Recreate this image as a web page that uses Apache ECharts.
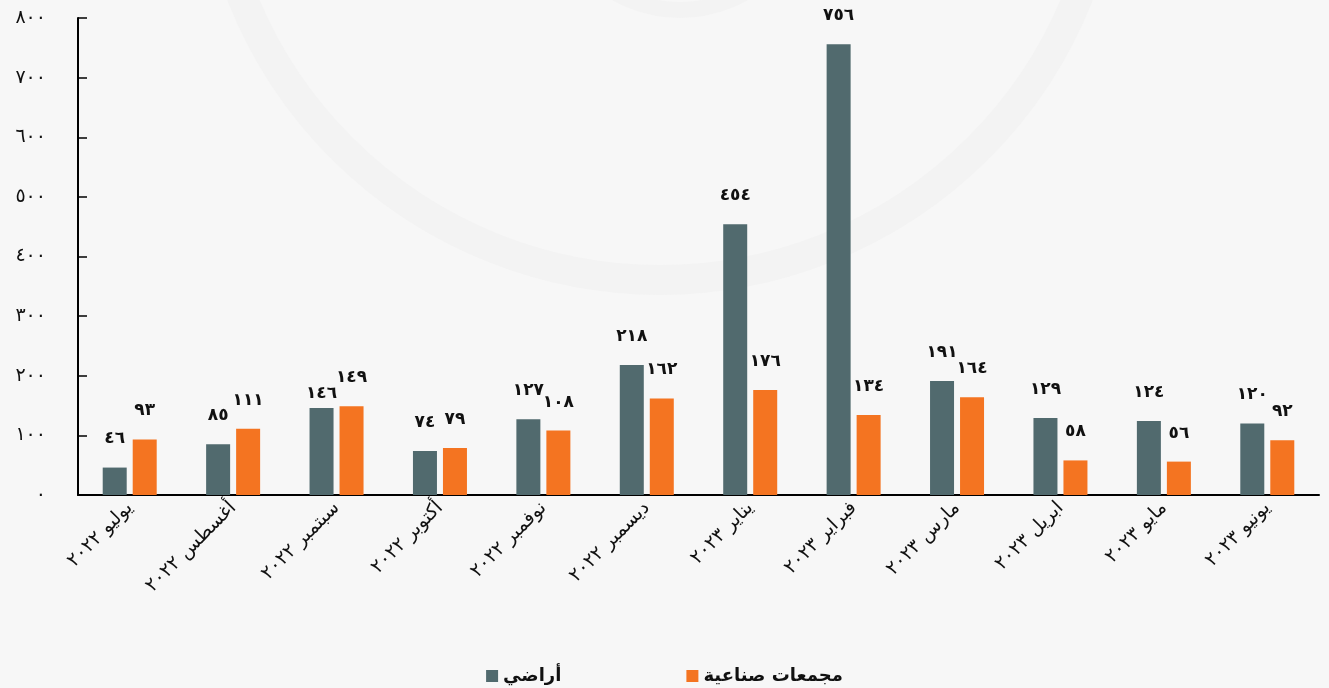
<!DOCTYPE html>
<html>
<head>
<meta charset="utf-8">
<script src="https://cdn.jsdelivr.net/npm/echarts@6/dist/echarts.min.js"></script>
<style>html,body{margin:0;padding:0;background:#f7f7f7;}#c{width:1329px;height:688px;}</style>
</head>
<body>
<div id="c"></div>
<script>
const categories = ['يوليو ٢٠٢٢','أغسطس ٢٠٢٢','سبتمبر ٢٠٢٢','أكتوبر ٢٠٢٢','نوفمبر ٢٠٢٢','ديسمبر ٢٠٢٢','يناير ٢٠٢٣','فبراير ٢٠٢٣','مارس ٢٠٢٣','ابريل ٢٠٢٣','مايو ٢٠٢٣','يونيو ٢٠٢٣'];
const landName = 'أراضي';
const industrialName = 'مجمعات صناعية';
const landValues = [46,85,146,74,127,218,454,756,191,129,124,120];
const industrialValues = [93,111,149,79,108,162,176,134,164,58,56,92];
const yTicks = [0,100,200,300,400,500,600,700,800];

const toArabic = n => String(n).replace(/[0-9]/g, d => '٠١٢٣٤٥٦٧٨٩'[d]);
const font = "'DejaVu Sans', sans-serif";
const labelStyle = {show: true, position: 'top', distance: 20, fontFamily: font, fontSize: 17, fontWeight: 'bold', color: '#111', formatter: p => toArabic(p.value)};

// lower the label of the 3rd land bar so it does not collide with its neighbour
const landData = landValues.map((v, i) => i === 2 ? {value: v, label: {distance: 6}} : v);

const chart = echarts.init(document.getElementById('c'));
chart.setOption({
  backgroundColor: '#f7f7f7',
  animation: false,
  graphic: [
    {type:'circle', silent:true, z:-10, shape:{cx:660, cy:-170, r:450}, style:{fill:'none', stroke:'#f3f3f3', lineWidth:30}},
    {type:'circle', silent:true, z:-10, shape:{cx:680, cy:-120, r:130}, style:{fill:'none', stroke:'#f3f3f3', lineWidth:16}}
  ],
  grid: {left:78, right:10, top:18, bottom:193},
  legend: {
    bottom: -2, left: 'center', itemGap: 125, itemWidth: 12, itemHeight: 12,
    icon: 'rect',
    textStyle: {fontFamily: font, fontSize: 18, fontWeight: 'bold', color: '#111'},
    data: [landName, industrialName]
  },
  xAxis: {
    type: 'category', data: categories,
    axisLine: {lineStyle: {color: '#000', width: 2}},
    axisTick: {inside: true, length: 8, lineStyle: {color: '#000', width: 1.5}},
    axisLabel: {rotate: 45, margin: 10, fontFamily: font, fontSize: 19, color: '#111', interval: 0}
  },
  yAxis: {
    type: 'value', min: yTicks[0], max: yTicks[yTicks.length-1], interval: 100,
    splitLine: {show: false},
    axisLine: {show: true, lineStyle: {color: '#000', width: 2}},
    axisTick: {show: true, inside: true, length: 9, lineStyle: {color: '#000', width: 1.5}},
    axisLabel: {margin: 32, fontFamily: font, fontSize: 19, color: '#111', formatter: v => toArabic(v)}
  },
  series: [
    {
      name: landName, type: 'bar', data: landData, barWidth: 24, barGap: '25%',
      itemStyle: {color: '#516a6e'},
      label: labelStyle
    },
    {
      name: industrialName, type: 'bar', data: industrialValues, barWidth: 24,
      itemStyle: {color: '#f47421'},
      label: labelStyle
    }
  ]
});
</script>
</body>
</html>
